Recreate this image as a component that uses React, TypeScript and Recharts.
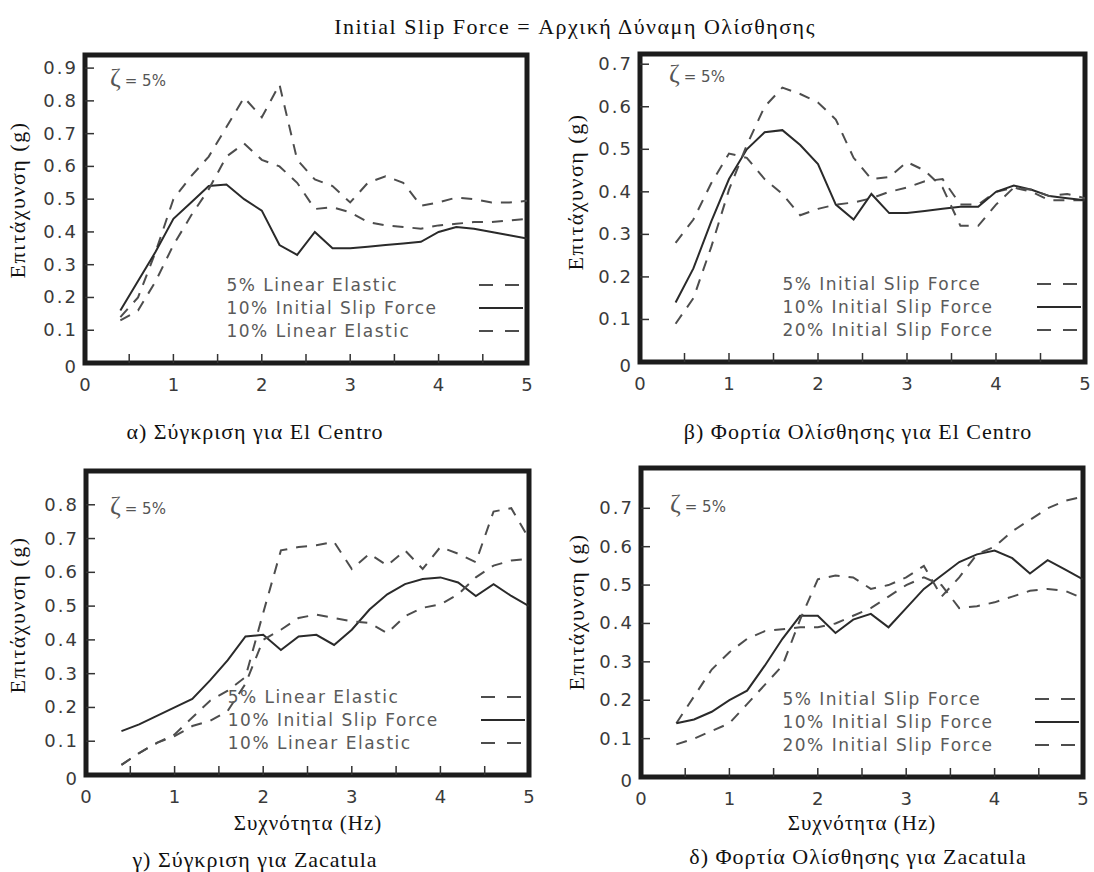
import React from "react";
import { LineChart, Line, XAxis, YAxis, ReferenceArea } from "recharts";

// Συχνότητα (Hz) – κοινά σημεία για όλες τις καμπύλες
const FREQ = [0.4, 0.6, 0.8, 1.0, 1.2, 1.4, 1.6, 1.8, 2.0, 2.2, 2.4, 2.6, 2.8, 3.0, 3.2, 3.4, 3.6, 3.8, 4.0, 4.2, 4.4, 4.6, 4.8, 5.0];

// α) El Centro – σύγκριση
const EC_LE5 = [0.14, 0.2, 0.34, 0.5, 0.57, 0.63, 0.72, 0.81, 0.75, 0.85, 0.62, 0.56, 0.54, 0.49, 0.55, 0.57, 0.55, 0.48, 0.49, 0.505, 0.5, 0.49, 0.49, 0.495];
const EC_ISF10 = [0.16, 0.25, 0.34, 0.44, 0.49, 0.54, 0.545, 0.5, 0.465, 0.36, 0.33, 0.4, 0.35, 0.35, 0.355, 0.36, 0.365, 0.37, 0.4, 0.415, 0.41, 0.4, 0.39, 0.38];
const EC_LE10 = [0.13, 0.16, 0.25, 0.36, 0.45, 0.53, 0.63, 0.67, 0.62, 0.6, 0.55, 0.47, 0.475, 0.46, 0.43, 0.42, 0.415, 0.41, 0.42, 0.425, 0.43, 0.43, 0.435, 0.44];

// β) El Centro – φορτία ολίσθησης
const EC_ISF5 = [0.28, 0.335, 0.42, 0.49, 0.48, 0.43, 0.395, 0.345, 0.36, 0.37, 0.375, 0.385, 0.4, 0.41, 0.425, 0.43, 0.37, 0.37, 0.4, 0.41, 0.4, 0.38, 0.38, 0.38];
const EC_ISF10B = [0.14, 0.22, 0.33, 0.43, 0.5, 0.54, 0.545, 0.51, 0.465, 0.37, 0.335, 0.395, 0.35, 0.35, 0.355, 0.36, 0.365, 0.365, 0.4, 0.415, 0.405, 0.39, 0.385, 0.38];
const EC_ISF20 = [0.09, 0.15, 0.27, 0.405, 0.51, 0.6, 0.645, 0.63, 0.61, 0.57, 0.48, 0.43, 0.435, 0.47, 0.45, 0.41, 0.32, 0.32, 0.37, 0.41, 0.405, 0.39, 0.395, 0.385];

// γ) Zacatula – σύγκριση
const ZA_LE5 = [0.03, 0.065, 0.095, 0.12, 0.17, 0.22, 0.25, 0.29, 0.48, 0.665, 0.675, 0.68, 0.69, 0.61, 0.655, 0.62, 0.665, 0.61, 0.675, 0.655, 0.63, 0.78, 0.79, 0.7];
const ZA_ISF10 = [0.13, 0.15, 0.175, 0.2, 0.225, 0.28, 0.34, 0.41, 0.415, 0.37, 0.41, 0.415, 0.385, 0.43, 0.49, 0.535, 0.565, 0.58, 0.585, 0.57, 0.53, 0.565, 0.53, 0.5];
const ZA_LE10 = [0.03, 0.065, 0.095, 0.115, 0.145, 0.16, 0.19, 0.27, 0.4, 0.43, 0.465, 0.475, 0.465, 0.455, 0.45, 0.42, 0.47, 0.495, 0.505, 0.535, 0.585, 0.62, 0.635, 0.64];

// δ) Zacatula – φορτία ολίσθησης
const ZA_ISF5 = [0.14, 0.21, 0.28, 0.325, 0.36, 0.38, 0.385, 0.39, 0.39, 0.4, 0.42, 0.44, 0.47, 0.5, 0.52, 0.5, 0.44, 0.445, 0.455, 0.47, 0.485, 0.49, 0.485, 0.465];
const ZA_ISF10B = [0.14, 0.15, 0.17, 0.2, 0.225, 0.29, 0.36, 0.42, 0.42, 0.375, 0.41, 0.425, 0.39, 0.44, 0.49, 0.525, 0.56, 0.58, 0.59, 0.57, 0.53, 0.565, 0.54, 0.515];
const ZA_ISF20 = [0.085, 0.1, 0.12, 0.14, 0.19, 0.24, 0.29, 0.41, 0.515, 0.525, 0.52, 0.49, 0.5, 0.52, 0.55, 0.47, 0.52, 0.58, 0.6, 0.64, 0.67, 0.7, 0.72, 0.73];

const X_TICKS = [0, 0.5, 1, 1.5, 2, 2.5, 3, 3.5, 4, 4.5, 5];
const Y_TICKS_A = [0, 0.1, 0.2, 0.3, 0.4, 0.5, 0.6, 0.7, 0.8, 0.9];
const Y_TICKS_B = [0, 0.1, 0.2, 0.3, 0.4, 0.5, 0.6, 0.7];
const Y_TICKS_C = [0, 0.1, 0.2, 0.3, 0.4, 0.5, 0.6, 0.7, 0.8];
const Y_TICKS_D = [0, 0.1, 0.2, 0.3, 0.4, 0.5, 0.6, 0.7];

const LEGEND_LE = ["5% Linear Elastic", "10% Initial Slip Force", "10% Linear Elastic"];
const LEGEND_ISF = ["5% Initial Slip Force", "10% Initial Slip Force", "20% Initial Slip Force"];

const SERIF = '"Liberation Serif", "DejaVu Serif", serif';
const SANS = '"DejaVu Sans", "Liberation Sans", sans-serif';
const DASH = "11 9";

type Series = { key: string; values: number[]; dashed: boolean };
type Geom = { left: number; right: number; top: number; bottom: number };

function buildRows(series: Series[]) {
  return FREQ.map((f, i) => {
    const row: Record<string, number> = { f };
    series.forEach((s) => {
      row[s.key] = s.values[i];
    });
    return row;
  });
}

function YTick(props: any) {
  const { x, y, payload } = props;
  const v = payload.value as number;
  return (
    <g>
      {v > 0 && <line x1={x} x2={x + 9} y1={y} y2={y} stroke="#333" strokeWidth={1.5} />}
      <text
        x={x - 7}
        y={y + (v === 0 ? 10 : 6)}
        textAnchor="end"
        fontFamily={SANS}
        fontSize={18}
        fill="#3a3a3a"
        style={{ letterSpacing: 2 }}
      >
        {v === 0 ? "0" : v.toFixed(1)}
      </text>
    </g>
  );
}

function XTick(props: any) {
  const { x, y, payload } = props;
  const v = payload.value as number;
  return (
    <g>
      {v > 0 && v < 5 && <line x1={x} x2={x} y1={y} y2={y - 9} stroke="#333" strokeWidth={1.5} />}
      {Number.isInteger(v) && (
        <text x={x} y={y + 28} textAnchor="middle" fontFamily={SANS} fontSize={18} fill="#3a3a3a">
          {v}
        </text>
      )}
    </g>
  );
}

interface PanelProps {
  geom: Geom;
  yMax: number;
  yTicks: number[];
  series: Series[];
  legend: string[];
  zeta: { x: number; y: number };
  yLabel: { x: number; y: number };
  xLabel?: { x: number; y: number };
  caption: { text: string; x: number; y: number };
}

function Panel({ geom, yMax, yTicks, series, legend, zeta, yLabel, xLabel, caption }: PanelProps) {
  const ML = 60;
  const MT = 10;
  const w = geom.right - geom.left;
  const h = geom.bottom - geom.top;
  const data = buildRows(series);
  const legendTextLeft = geom.left + w * 0.32;
  const sampleLeft = geom.right - 48;
  const rowYs = [geom.bottom - 78, geom.bottom - 55, geom.bottom - 32];

  return (
    <>
      <div style={{ position: "absolute", left: geom.left - ML, top: geom.top - MT }}>
        <LineChart width={w + ML + 10} height={h + MT + 40} data={data} margin={{ top: MT, right: 10, bottom: 0, left: 0 }}>
          <XAxis
            dataKey="f"
            type="number"
            domain={[0, 5]}
            ticks={X_TICKS}
            interval={0}
            tick={<XTick />}
            tickLine={false}
            axisLine={false}
            tickSize={0}
            tickMargin={0}
            height={40}
            allowDataOverflow
          />
          <YAxis
            type="number"
            domain={[0, yMax]}
            ticks={yTicks}
            interval={0}
            tick={<YTick />}
            tickLine={false}
            axisLine={false}
            tickSize={0}
            tickMargin={0}
            width={ML}
            allowDataOverflow
          />
          {series.map((s) => (
            <Line
              key={s.key}
              dataKey={s.key}
              type="linear"
              stroke={s.dashed ? "#4d4d4d" : "#2a2a2a"}
              strokeWidth={2}
              strokeDasharray={s.dashed ? DASH : undefined}
              dot={false}
              isAnimationActive={false}
            />
          ))}
          <ReferenceArea x1={0} x2={5} y1={0} y2={yMax} fill="none" fillOpacity={0} stroke="#1c1c1c" strokeWidth={5} ifOverflow="visible" />
        </LineChart>
      </div>

      {/* ζ = 5% */}
      <div style={{ position: "absolute", left: zeta.x, top: zeta.y - 14, whiteSpace: "nowrap", color: "#555" }}>
        <span style={{ fontFamily: SERIF, fontSize: 26 }}>ζ</span>
        <span style={{ fontFamily: SANS, fontSize: 15, marginLeft: 4 }}>= 5%</span>
      </div>

      {/* υπόμνημα */}
      {legend.map((name, i) => (
        <React.Fragment key={name}>
          <div
            style={{
              position: "absolute",
              left: legendTextLeft,
              top: rowYs[i] - 11,
              fontFamily: SANS,
              fontSize: 17,
              lineHeight: "22px",
              letterSpacing: 1.5,
              color: "#5a5a5a",
              whiteSpace: "nowrap",
            }}
          >
            {name}
          </div>
          <svg style={{ position: "absolute", left: sampleLeft, top: rowYs[i] - 2 }} width={44} height={4}>
            <line
              x1={0}
              x2={44}
              y1={2}
              y2={2}
              stroke={series[i].dashed ? "#4d4d4d" : "#2a2a2a"}
              strokeWidth={2}
              strokeDasharray={series[i].dashed ? "14 12" : undefined}
            />
          </svg>
        </React.Fragment>
      ))}

      {/* άξονας y */}
      <div
        style={{
          position: "absolute",
          left: yLabel.x,
          top: yLabel.y,
          transform: "translate(-50%, -50%) rotate(-90deg)",
          fontFamily: SERIF,
          fontSize: 22,
          letterSpacing: 1.5,
          whiteSpace: "nowrap",
          color: "#111",
        }}
      >
        Επιτάχυνση (g)
      </div>

      {xLabel && (
        <div
          style={{
            position: "absolute",
            left: xLabel.x,
            top: xLabel.y,
            transform: "translate(-50%, -50%)",
            fontFamily: SERIF,
            fontSize: 21,
            letterSpacing: 1,
            whiteSpace: "nowrap",
            color: "#111",
          }}
        >
          Συχνότητα (Hz)
        </div>
      )}

      <div
        style={{
          position: "absolute",
          left: caption.x,
          top: caption.y,
          transform: "translate(-50%, -50%)",
          fontFamily: SERIF,
          fontSize: 22,
          letterSpacing: 1,
          whiteSpace: "nowrap",
          color: "#111",
        }}
      >
        {caption.text}
      </div>
    </>
  );
}

export default function App() {
  return (
    <div style={{ position: "absolute", left: 0, top: 0, width: 1094, height: 872, background: "#fff", overflow: "hidden" }}>
      <div
        style={{
          position: "absolute",
          left: 575,
          top: 27,
          transform: "translate(-50%, -50%)",
          fontFamily: SERIF,
          fontSize: 22,
          letterSpacing: 1.5,
          whiteSpace: "nowrap",
          color: "#111",
        }}
      >
        Initial Slip Force = Αρχική Δύναμη Ολίσθησης
      </div>

      <Panel
        geom={{ left: 85, right: 527, top: 55, bottom: 363 }}
        yMax={0.94}
        yTicks={Y_TICKS_A}
        series={[
          { key: "le5", values: EC_LE5, dashed: true },
          { key: "isf10", values: EC_ISF10, dashed: false },
          { key: "le10", values: EC_LE10, dashed: true },
        ]}
        legend={LEGEND_LE}
        zeta={{ x: 110, y: 77 }}
        yLabel={{ x: 18, y: 200 }}
        caption={{ text: "α) Σύγκριση για El Centro", x: 255, y: 432 }}
      />

      <Panel
        geom={{ left: 640, right: 1085, top: 54, bottom: 362 }}
        yMax={0.724}
        yTicks={Y_TICKS_B}
        series={[
          { key: "isf5", values: EC_ISF5, dashed: true },
          { key: "isf10", values: EC_ISF10B, dashed: false },
          { key: "isf20", values: EC_ISF20, dashed: true },
        ]}
        legend={LEGEND_ISF}
        zeta={{ x: 669, y: 73 }}
        yLabel={{ x: 576, y: 192 }}
        caption={{ text: "β) Φορτία Ολίσθησης για El Centro", x: 858, y: 432 }}
      />

      <Panel
        geom={{ left: 86, right: 529, top: 471, bottom: 775 }}
        yMax={0.9}
        yTicks={Y_TICKS_C}
        series={[
          { key: "le5", values: ZA_LE5, dashed: true },
          { key: "isf10", values: ZA_ISF10, dashed: false },
          { key: "le10", values: ZA_LE10, dashed: true },
        ]}
        legend={LEGEND_LE}
        zeta={{ x: 110, y: 505 }}
        yLabel={{ x: 18, y: 615 }}
        xLabel={{ x: 308, y: 823 }}
        caption={{ text: "γ) Σύγκριση για Zacatula", x: 255, y: 860 }}
      />

      <Panel
        geom={{ left: 641, right: 1083, top: 468, bottom: 777 }}
        yMax={0.805}
        yTicks={Y_TICKS_D}
        series={[
          { key: "isf5", values: ZA_ISF5, dashed: true },
          { key: "isf10", values: ZA_ISF10B, dashed: false },
          { key: "isf20", values: ZA_ISF20, dashed: true },
        ]}
        legend={LEGEND_ISF}
        zeta={{ x: 670, y: 503 }}
        yLabel={{ x: 577, y: 612 }}
        xLabel={{ x: 862, y: 823 }}
        caption={{ text: "δ) Φορτία Ολίσθησης για Zacatula", x: 858, y: 857 }}
      />
    </div>
  );
}
